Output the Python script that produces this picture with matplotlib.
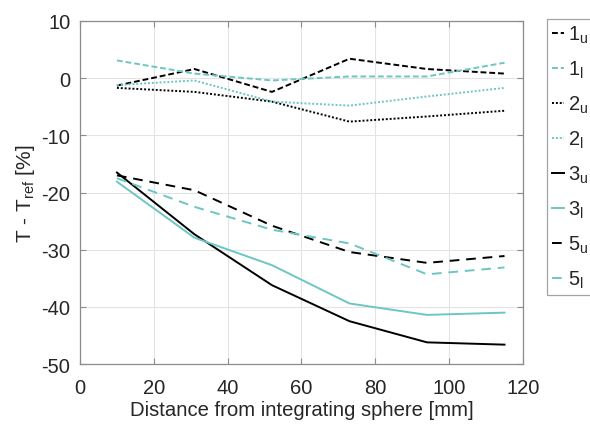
import matplotlib
matplotlib.use("Agg")
import matplotlib.pyplot as plt

plt.rcParams['font.family'] = ['Liberation Sans', 'DejaVu Sans']
plt.rcParams['mathtext.fontset'] = 'custom'
plt.rcParams['mathtext.rm'] = 'Liberation Sans'
plt.rcParams['mathtext.it'] = 'Liberation Sans:italic'
plt.rcParams['axes.unicode_minus'] = False

# distance from the integrating sphere [mm]
distance = [10, 31, 52, 73, 94, 115]

# relative transmittance deviation [%]
t_1u = [-1.3, 1.6, -2.4, 3.4, 1.6, 0.8]
t_1l = [3.1, 0.8, -0.4, 0.3, 0.3, 2.7]
t_2u = [-1.7, -2.4, -4.1, -7.6, -6.7, -5.7]
t_2l = [-1.2, -0.4, -4.1, -4.8, -3.2, -1.7]
t_3u = [-16.5, -27.3, -36.2, -42.5, -46.2, -46.6]
t_3l = [-18.1, -27.9, -32.7, -39.4, -41.4, -41.0]
t_5u = [-17.0, -19.6, -25.8, -30.4, -32.3, -31.1]
t_5l = [-17.5, -22.5, -26.5, -28.9, -34.3, -33.1]

labels = ['1$_\\mathrm{u}$', '1$_\\mathrm{l}$', '2$_\\mathrm{u}$', '2$_\\mathrm{l}$',
          '3$_\\mathrm{u}$', '3$_\\mathrm{l}$', '5$_\\mathrm{u}$', '5$_\\mathrm{l}$']

black = 'black'
teal = '#6cc6c3'
txt = '#262626'
dash_short = (0, (3, 1.5))
dash_long = (0, (5, 3.5))
dot = (0, (1, 1))

fig = plt.figure(figsize=(5.9, 4.27), dpi=100)
ax = fig.add_axes([0.1356, 0.145, 0.7508, 0.8035])

series = [
    (t_1u, black, dash_short),
    (t_1l, teal, dash_short),
    (t_2u, black, dot),
    (t_2l, teal, dot),
    (t_3u, black, '-'),
    (t_3l, teal, '-'),
    (t_5u, black, dash_long),
    (t_5l, teal, dash_long),
]
for (vals, col, ls), lab in zip(series, labels):
    ax.plot(distance, vals, color=col, linestyle=ls, linewidth=1.4, label=lab)

ax.set_xlim(0, 120)
ax.set_ylim(-50, 10)
ax.set_xticks(range(0, 121, 20))
ax.set_yticks(range(-50, 11, 10))
ax.grid(True, color='#e3e3e3', linewidth=0.8)
ax.set_axisbelow(True)
for s in ax.spines.values():
    s.set_color('#8c8c8c')
    s.set_linewidth(0.9)
ax.tick_params(direction='in', top=True, right=True, color='#8c8c8c',
               labelcolor=txt, labelsize=14.5, length=4)
ax.tick_params(axis='x', pad=10)
ax.tick_params(axis='y', pad=7)
ax.set_xlabel('Distance from integrating sphere [mm]', fontsize=14.6, color=txt, labelpad=2)
ax.set_ylabel('T - T$_\\mathrm{ref}$ [%]', fontsize=15, color=txt, labelpad=3)

# legend sits outside the axes, partly clipped by the figure edge
leg = fig.legend(loc='upper left', bbox_to_anchor=(0.927, 0.953), borderaxespad=0,
                 fontsize=14.5, handlelength=0.6, handletextpad=0.2,
                 labelspacing=0.68, borderpad=0.25, frameon=True, fancybox=False)
leg.get_frame().set_edgecolor('#8c8c8c')
leg.get_frame().set_linewidth(0.9)
for t in leg.get_texts():
    t.set_color(txt)

fig.savefig('out.png', dpi=100)
